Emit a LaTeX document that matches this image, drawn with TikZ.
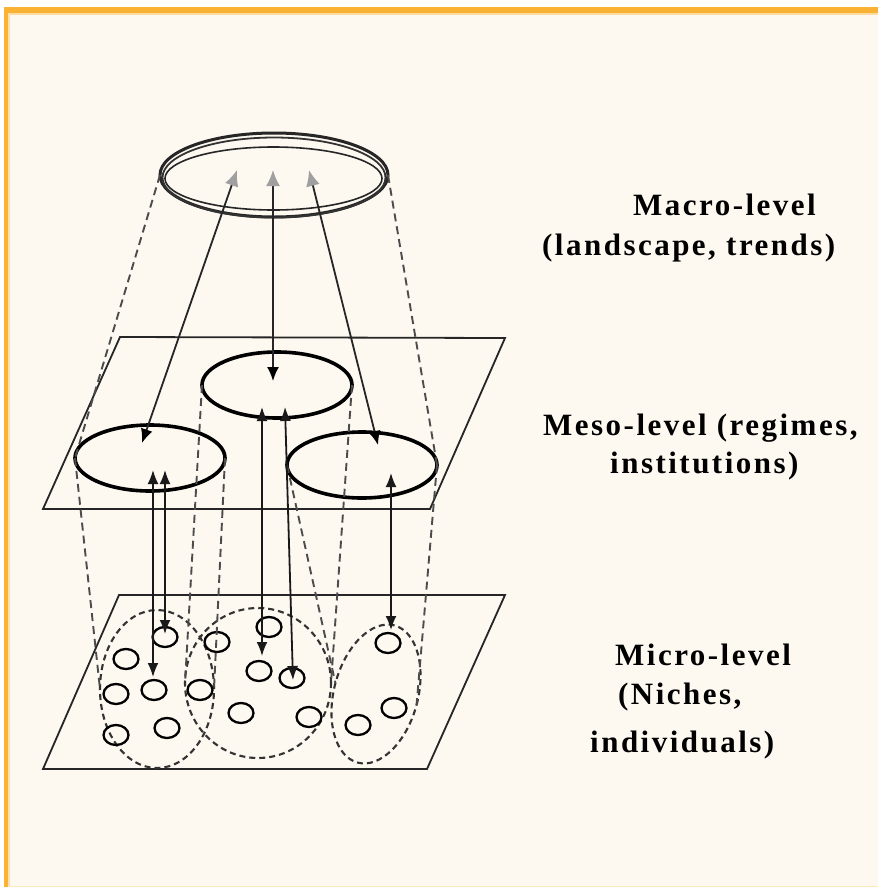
\documentclass[tikz,border=0pt]{standalone}
\usepackage{fontspec}
\newfontfamily\lblfont{Liberation Serif}[LetterSpace=8]
\usetikzlibrary{shapes.geometric,arrows.meta}
\definecolor{bgcream}{HTML}{FDF8F0}
\definecolor{frameorange}{HTML}{F9B233}
\begin{document}
\begin{tikzpicture}[x=1pt,y=1pt,
  plane/.style={draw=black!85, line width=1.8pt, line join=miter},
  mesoell/.style={ellipse, draw=black, line width=3.6pt, inner sep=0pt, outer sep=0pt, minimum width=150pt, minimum height=66pt},
  niche/.style={ellipse, draw=black, line width=2.3pt, inner sep=0pt, minimum width=25pt, minimum height=20pt},
  grp/.style={ellipse, draw=black!80, dash pattern=on 6pt off 4pt, line width=2.1pt, inner sep=0pt, outer sep=0pt},
  link/.style={draw=black!70, dash pattern=on 8pt off 5pt, line width=1.9pt},
  arr/.style={draw=black!90, line width=1.8pt, {Latex[length=14pt,width=11pt]}-{Latex[length=14pt,width=11pt]}},
  uparr/.style={draw=black!85, line width=1.8pt, {Latex[length=16pt,width=14pt,color=gray!75]}-{Latex[length=14pt,width=12pt,color=black]}},
  lbl/.style={anchor=base west, inner sep=0pt, font=\lblfont\bfseries\fontsize{31}{36}\selectfont}
]
\useasboundingbox (0,0) rectangle (878,-887);
% background and frame
\fill[white] (0,0) rectangle (878,-887);
\fill[bgcream] (4,-7) rectangle (878,-887);
\fill[frameorange] (4,-7) rectangle (878,-13);
\fill[frameorange!45] (8,-13) rectangle (878,-15);
\fill[frameorange] (4,-7) rectangle (8,-887);
\fill[frameorange!40] (8,-13) rectangle (9.5,-887);
\fill[frameorange!30] (8,-885.5) rectangle (878,-887);

% planes
\draw[plane] (120,-337) -- (505,-338) -- (430,-509) -- (43,-509) -- cycle;
\draw[plane] (119,-595) -- (505,-595) -- (427,-769) -- (43,-769) -- cycle;

% macro ellipse
\node[ellipse, draw=black!85, line width=3pt, inner sep=0pt, outer sep=0pt, minimum width=228pt, minimum height=84pt] (macro) at (274,-175) {};
\draw[black!80, line width=1.8pt] (274,-177.5) ellipse [x radius=111.5pt, y radius=40pt];
\node[ellipse, draw=black!85, line width=1.6pt, inner sep=0pt, minimum width=217pt, minimum height=63pt] (macroin) at (273.5,-178.5) {};

% meso ellipses
\node[mesoell] (mM) at (277,-385) {};
\node[mesoell] (mL) at (150,-458) {};
\node[mesoell] (mR) at (362,-465) {};

% micro group ellipses
\node[grp, minimum width=114pt, minimum height=158pt] (gL) at (157,-689) {};
\node[grp, minimum width=146pt, minimum height=150pt] (gM) at (258,-683) {};
\node[grp, minimum width=84pt, minimum height=142pt, rotate=-15] (gR) at (376,-694) {};

% niches
\node[niche] (c1) at (165,-637) {};
\node[niche] (c2) at (126,-659) {};
\node[niche] (c3) at (116,-694) {};
\node[niche] (c4) at (154,-690) {};
\node[niche] (c5) at (200,-690) {};
\node[niche] (c6) at (116,-735) {};
\node[niche] (c7) at (167,-728) {};
\node[niche] (c8) at (217,-642) {};
\node[niche] (c9) at (269,-627) {};
\node[niche] (c10) at (259,-671) {};
\node[niche] (c11) at (292,-678) {};
\node[niche] (c12) at (241,-713) {};
\node[niche] (c13) at (309,-717) {};
\node[niche] (c14) at (358,-725) {};
\node[niche] (c15) at (394,-708) {};
\node[niche] (c16) at (388,-643) {};

% dashed projection lines
\draw[link] (macro.west) -- (mL.west);
\draw[link] (macro.east) -- (mR.east);
\draw[link] (mL.west) -- (gL.west);
\draw[link] (mL.east) -- (gL.east);
\draw[link] (mM.west) -- (gM.west);
\draw[link] (mM.east) -- (gM.east);
\draw[link] (mR.west) -- (gR.west);
\draw[link] (mR.east) -- (gR.east);

% arrow end points
\coordinate (u1) at (237,-170); \coordinate (d1) at (142,-443);
\coordinate (u2) at (273,-170); \coordinate (d2) at (273,-381);
\coordinate (u3) at (309,-170); \coordinate (d3) at (378,-445);
\draw[uparr] (u1) -- (d1);
\draw[uparr] (u2) -- (d2);
\draw[uparr] (u3) -- (d3);

\coordinate (p1) at (153,-470); \coordinate (q1) at (153,-677);
\coordinate (p2) at (165,-470); \coordinate (q2) at (165,-634);
\coordinate (p3) at (262,-407); \coordinate (q3) at (262,-656);
\coordinate (p4) at (285,-407); \coordinate (q4) at (293,-680);
\coordinate (p5) at (391,-473); \coordinate (q5) at (391,-630);
\draw[arr] (p1) -- (q1);
\draw[arr] (p2) -- (q2);
\draw[arr] (p3) -- (q3);
\draw[arr] (p4) -- (q4);
\draw[arr] (p5) -- (q5);

% labels
\node[lbl] (t1) at (633,-215) {Macro-level};
\node[lbl] (t2) at (542,-255) {(landscape, trends)};
\node[lbl] (t3) at (543,-435) {Meso-level (regimes,};
\node[lbl] (t4) at (610,-473) {institutions)};
\node[lbl] (t5) at (615,-665) {Micro-level};
\node[lbl] (t6) at (618,-704) {(Niches,};
\node[lbl] (t7) at (590,-752) {individuals)};
\end{tikzpicture}
\end{document}
